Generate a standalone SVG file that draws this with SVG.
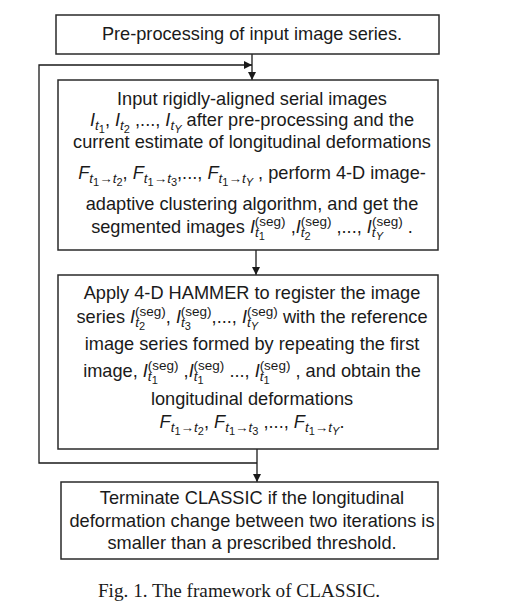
<svg xmlns="http://www.w3.org/2000/svg" width="514" height="601" viewBox="0 0 514 601">
<style>
.bg{fill:#ffffff}
.box{fill:#ffffff;stroke:#2a2a2a;stroke-width:1.5}
.ln{fill:none;stroke:#1a1a1a;stroke-width:1.3}
.t{font-family:"Liberation Sans",Arial,sans-serif;font-size:18.2px;fill:#1a1a1a;text-anchor:middle}
.i{font-style:italic}
.s1{font-size:13.5px}
.s2{font-size:11px}
.cap{font-family:"Liberation Serif","Times New Roman",serif;font-size:19.2px;fill:#1a1a1a;text-anchor:middle}
</style>
<defs>
<marker id="ah" markerUnits="userSpaceOnUse" markerWidth="9" markerHeight="9" refX="8" refY="4" orient="auto">
<path d="M0,0 L8,4 L0,8 z" fill="#1a1a1a"/>
</marker>
</defs>
<rect class="bg" x="0" y="0" width="514" height="601"/>
<g id="connectors">
<path class="ln" d="M252,54 V80" marker-end="url(#ah)"/>
<path class="ln" d="M256,250 V275" marker-end="url(#ah)"/>
<path class="ln" d="M257,449 V482" marker-end="url(#ah)"/>
<path class="ln" d="M257,463 H39 V65 H252" marker-end="url(#ah)"/>
</g>
<g id="n1">
<rect class="box" x="56" y="15" width="383" height="39"/>
<text class="t" x="252" y="40">Pre-processing of input image series.</text>
</g>
<g id="n2">
<rect class="box" x="58" y="80" width="380" height="170"/>
<text class="t" x="252" y="105">Input rigidly-aligned serial images</text>
<text class="t" x="252" y="126"><tspan class="i">I</tspan><tspan class="i s1" dy="4">t</tspan><tspan class="s2" dy="3">1</tspan><tspan dy="-7">, </tspan><tspan class="i">I</tspan><tspan class="i s1" dy="4">t</tspan><tspan class="s2" dy="3">2</tspan><tspan dy="-7"> ,..., </tspan><tspan class="i">I</tspan><tspan class="i s1" dy="4">t</tspan><tspan class="i s2" dy="3">Y</tspan><tspan dy="-7"> after pre-processing and the</tspan></text>
<text class="t" x="252" y="148">current estimate of longitudinal deformations</text>
<text class="t" x="252" y="179"><tspan class="i">F</tspan><tspan class="i s1" dy="4">t</tspan><tspan class="s2" dy="3">1</tspan><tspan class="s1" dy="-3">→</tspan><tspan class="i s1">t</tspan><tspan class="s2" dy="3">2</tspan><tspan dy="-7">, </tspan><tspan class="i">F</tspan><tspan class="i s1" dy="4">t</tspan><tspan class="s2" dy="3">1</tspan><tspan class="s1" dy="-3">→</tspan><tspan class="i s1">t</tspan><tspan class="s2" dy="3">3</tspan><tspan dy="-7">,..., </tspan><tspan class="i">F</tspan><tspan class="i s1" dy="4">t</tspan><tspan class="s2" dy="3">1</tspan><tspan class="s1" dy="-3">→</tspan><tspan class="i s1">t</tspan><tspan class="i s2" dy="3">Y</tspan><tspan dy="-7"> , perform 4-D image-</tspan></text>
<text class="t" x="252" y="210">adaptive clustering algorithm, and get the</text>
<text class="t" x="252" y="233"><tspan>segmented images  </tspan><tspan class="i">I</tspan><tspan class="i s1" dy="4">t</tspan><tspan class="s2" dy="3">1</tspan><tspan class="s1" dx="-10" dy="-14">(seg)</tspan><tspan dy="7"> ,</tspan><tspan class="i">I</tspan><tspan class="i s1" dy="4">t</tspan><tspan class="s2" dy="3">2</tspan><tspan class="s1" dx="-10" dy="-14">(seg)</tspan><tspan dy="7"> ,..., </tspan><tspan class="i">I</tspan><tspan class="i s1" dy="4">t</tspan><tspan class="i s2" dy="3">Y</tspan><tspan class="s1" dx="-11" dy="-14">(seg)</tspan><tspan dy="7"> .</tspan></text>
</g>
<g id="n3">
<rect class="box" x="58" y="275" width="380" height="174"/>
<text class="t" x="252" y="299">Apply 4-D HAMMER to register the image</text>
<text class="t" x="252" y="323"><tspan>series </tspan><tspan class="i">I</tspan><tspan class="i s1" dy="4">t</tspan><tspan class="s2" dy="3">2</tspan><tspan class="s1" dx="-10" dy="-14">(seg)</tspan><tspan dy="7">, </tspan><tspan class="i">I</tspan><tspan class="i s1" dy="4">t</tspan><tspan class="s2" dy="3">3</tspan><tspan class="s1" dx="-10" dy="-14">(seg)</tspan><tspan dy="7">,..., </tspan><tspan class="i">I</tspan><tspan class="i s1" dy="4">t</tspan><tspan class="i s2" dy="3">Y</tspan><tspan class="s1" dx="-11" dy="-14">(seg)</tspan><tspan dy="7"> with the reference</tspan></text>
<text class="t" x="252" y="350">image series formed by repeating the first</text>
<text class="t" x="252" y="377"><tspan>image, </tspan><tspan class="i">I</tspan><tspan class="i s1" dy="4">t</tspan><tspan class="s2" dy="3">1</tspan><tspan class="s1" dx="-10" dy="-14">(seg)</tspan><tspan dy="7"> ,</tspan><tspan class="i">I</tspan><tspan class="i s1" dy="4">t</tspan><tspan class="s2" dy="3">1</tspan><tspan class="s1" dx="-10" dy="-14">(seg)</tspan><tspan dy="7"> ..., </tspan><tspan class="i">I</tspan><tspan class="i s1" dy="4">t</tspan><tspan class="s2" dy="3">1</tspan><tspan class="s1" dx="-10" dy="-14">(seg)</tspan><tspan dy="7"> , and obtain the</tspan></text>
<text class="t" x="252" y="405">longitudinal deformations</text>
<text class="t" x="252" y="428"><tspan class="i">F</tspan><tspan class="i s1" dy="4">t</tspan><tspan class="s2" dy="3">1</tspan><tspan class="s1" dy="-3">→</tspan><tspan class="i s1">t</tspan><tspan class="s2" dy="3">2</tspan><tspan dy="-7">, </tspan><tspan class="i">F</tspan><tspan class="i s1" dy="4">t</tspan><tspan class="s2" dy="3">1</tspan><tspan class="s1" dy="-3">→</tspan><tspan class="i s1">t</tspan><tspan class="s2" dy="3">3</tspan><tspan dy="-7"> ,..., </tspan><tspan class="i">F</tspan><tspan class="i s1" dy="4">t</tspan><tspan class="s2" dy="3">1</tspan><tspan class="s1" dy="-3">→</tspan><tspan class="i s1">t</tspan><tspan class="i s2" dy="3">Y</tspan><tspan dy="-7">.</tspan></text>
</g>
<g id="n4">
<rect class="box" x="61" y="482" width="377" height="77"/>
<text class="t" x="252" y="504">Terminate CLASSIC if the longitudinal</text>
<text class="t" x="252" y="527">deformation change between two iterations is</text>
<text class="t" x="252" y="549">smaller than a prescribed threshold.</text>
</g>
<text class="cap" x="239" y="597">Fig. 1. The framework of CLASSIC.</text>
</svg>
